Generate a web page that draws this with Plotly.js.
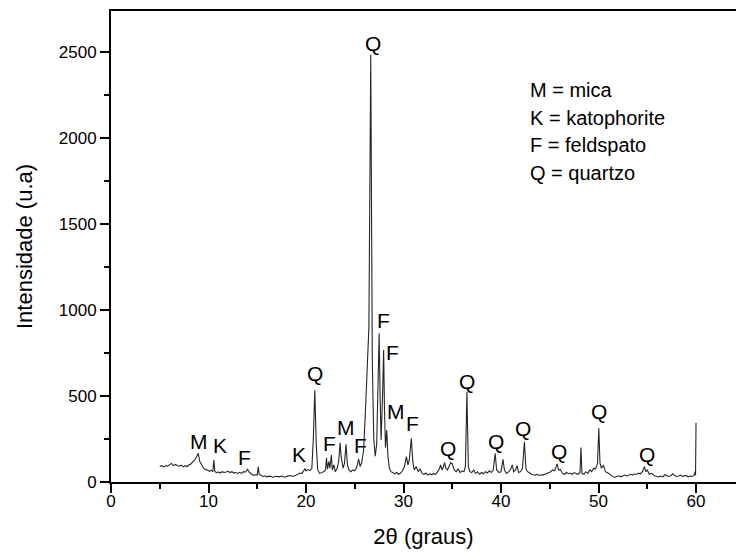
<!DOCTYPE html>
<html>
<head>
<meta charset="utf-8">
<script src="https://cdn.plot.ly/plotly-3.0.1.min.js"></script>
<style>html,body{margin:0;padding:0;background:#fff;}#chart{width:736px;height:553px;}</style>
</head>
<body>
<div id="chart"></div>
<script>
// 2θ (degrees)
const twoTheta = [
5.0,5.2,5.4,5.6,5.8,6.0,6.2,6.4,6.6,6.8,7.0,7.2,7.4,7.6,7.8,8.0,8.2,8.4,8.6,8.8,8.95,9.1,9.3,9.5,9.7,9.9,
10.1,10.3,10.45,10.55,10.65,10.8,11.0,11.2,11.4,11.6,11.8,12.0,12.2,12.4,12.6,12.8,13.0,13.2,13.4,13.6,13.8,
14.0,14.2,14.4,14.6,14.8,15.0,15.1,15.2,15.4,15.6,15.8,16.0,16.3,16.6,16.9,17.2,17.5,17.8,18.1,18.4,18.7,
19.0,19.2,19.4,19.6,19.8,19.9,20.0,20.2,20.4,20.6,20.75,20.9,21.05,21.2,21.4,21.6,21.8,22.0,22.1,22.2,22.35,
22.45,22.6,22.7,22.85,23.0,23.2,23.35,23.5,23.6,23.8,23.95,24.1,24.25,24.4,24.6,24.8,25.0,25.2,25.4,25.55,
25.7,25.9,26.1,26.3,26.45,26.64,26.8,26.95,27.1,27.25,27.4,27.5,27.6,27.7,27.85,27.96,28.05,28.15,28.28,
28.4,28.55,28.7,28.9,29.1,29.3,29.5,29.7,29.9,30.1,30.3,30.45,30.6,30.8,30.95,31.1,31.3,31.5,31.7,31.9,
32.1,32.3,32.5,32.7,32.9,33.1,33.3,33.5,33.7,33.8,33.95,34.1,34.2,34.35,34.5,34.7,34.85,35.0,35.2,35.4,
35.6,35.8,36.0,36.2,36.35,36.5,36.65,36.8,37.0,37.2,37.4,37.6,37.8,38.0,38.2,38.4,38.6,38.8,39.0,39.2,
39.4,39.55,39.8,40.0,40.2,40.35,40.55,40.8,41.0,41.15,41.3,41.5,41.65,41.8,42.0,42.2,42.4,42.55,42.7,
42.9,43.1,43.3,43.5,43.7,43.9,44.1,44.3,44.5,44.7,44.9,45.1,45.3,45.5,45.75,45.9,46.1,46.3,46.5,46.7,
46.9,47.1,47.3,47.5,47.7,47.9,48.1,48.2,48.3,48.5,48.7,48.9,49.1,49.3,49.5,49.7,49.9,50.03,50.15,50.3,
50.5,50.7,50.9,51.1,51.3,51.5,51.7,51.9,52.1,52.3,52.5,52.7,52.9,53.1,53.3,53.5,53.7,53.9,54.1,54.3,
54.5,54.7,54.85,55.0,55.2,55.4,55.6,55.8,56.0,56.2,56.4,56.6,56.8,57.0,57.2,57.4,57.6,57.8,58.0,58.2,
58.4,58.6,58.8,59.0,59.2,59.4,59.6,59.8,59.9,59.95,60.0
];
// Intensity (u.a)
const intensity = [
90,95,88,96,92,100,108,95,102,96,92,98,88,95,90,100,105,118,130,150,167,120,95,80,72,70,
62,68,60,128,62,55,58,52,60,55,58,62,55,60,52,55,50,56,50,60,58,
74,55,45,38,42,40,89,45,38,32,36,30,34,28,33,30,35,28,34,38,32,
42,45,52,50,68,79,65,72,66,80,250,533,220,70,50,55,60,70,140,75,120,
80,157,70,100,60,80,120,228,150,80,110,219,100,70,60,70,65,85,133,90,
110,180,420,767,900,2483,700,250,150,220,600,864,500,244,500,767,420,200,302,
150,80,60,55,48,55,45,52,65,90,147,100,130,254,120,70,90,60,75,50,
45,52,40,48,42,50,45,60,80,99,70,90,112,80,70,95,112,105,70,60,
75,55,65,60,90,525,90,60,55,70,50,60,45,55,48,60,52,65,55,70,
167,70,55,60,132,70,50,60,75,99,60,70,96,55,60,80,234,80,60,
55,45,42,40,45,38,42,40,45,50,55,60,70,65,105,70,72,50,45,55,
48,52,45,55,50,45,55,200,50,45,60,50,70,60,80,75,110,312,110,80,
99,60,55,45,35,30,28,32,36,30,34,40,35,38,45,40,48,44,52,48,
60,89,60,70,45,50,40,35,32,30,35,30,42,35,32,36,48,38,32,35,
40,33,36,38,30,35,32,38,60,40,345
];
// Phase labels on peaks
const labelText = ["M","K","F","K","Q","F","M","F","Q","F","F","M","F","Q","Q","Q","Q","Q","Q","Q"];
const labelX = [9.0,11.2,13.7,19.3,20.9,22.4,24.1,25.6,26.9,27.9,28.9,29.2,30.9,34.6,36.5,39.5,42.3,45.9,50.0,55.0];
const labelY = [238,213,143,160,630,223,314,212,2548,940,754,410,338,193,584,236,312,175,408,160];
// Key text
const keyLines = ["M = mica","K = katophorite","F = feldspato","Q = quartzo"];

const font = "'Liberation Sans', Arial, sans-serif";
const annotations = [];
for (let i = 0; i < labelText.length; i++) {
  annotations.push({x: labelX[i], y: labelY[i], xref: 'x', yref: 'y', text: labelText[i],
    showarrow: false, xanchor: 'center', yanchor: 'middle', font: {family: font, size: 21, color: '#000'}});
}
const keyY = [0.832, 0.773, 0.716, 0.656];
for (let i = 0; i < keyLines.length; i++) {
  annotations.push({x: 0.667, y: keyY[i], xref: 'paper', yref: 'paper', text: keyLines[i],
    showarrow: false, xanchor: 'left', yanchor: 'middle', font: {family: font, size: 20, color: '#000'}});
}

const trace = {x: twoTheta, y: intensity, type: 'scatter', mode: 'lines',
  line: {color: '#262626', width: 1.1}, hoverinfo: 'skip'};

const layout = {
  width: 736, height: 553,
  margin: {l: 111, r: 0, t: 11, b: 71, pad: 0},
  paper_bgcolor: '#fff', plot_bgcolor: '#fff',
  showlegend: false,
  font: {family: font, size: 17, color: '#000'},
  xaxis: {
    range: [0, 64.1], showgrid: false, zeroline: false,
    showline: true, linecolor: '#000', linewidth: 2, mirror: true,
    ticks: 'outside', ticklen: 9, tickwidth: 2, tickcolor: '#000',
    tick0: 0, dtick: 10, tickfont: {family: font, size: 17}, ticklabelstandoff: -6,
    minor: {ticks: 'outside', ticklen: 5, tickwidth: 2, tickcolor: '#000', dtick: 5, showgrid: false},
    title: {text: '2θ (graus)', font: {family: font, size: 22}, standoff: 18}
  },
  yaxis: {
    range: [0, 2738], showgrid: false, zeroline: false,
    showline: true, linecolor: '#000', linewidth: 2, mirror: false,
    ticks: 'outside', ticklen: 9, tickwidth: 2, tickcolor: '#000',
    tick0: 0, dtick: 500, tickfont: {family: font, size: 17},
    minor: {ticks: 'outside', ticklen: 5, tickwidth: 2, tickcolor: '#000', dtick: 250, showgrid: false},
    title: {text: 'Intensidade (u.a)', font: {family: font, size: 22}, standoff: 20}
  },
  annotations: annotations
};

Plotly.newPlot('chart', [trace], layout, {staticPlot: true, displayModeBar: false});
</script>
</body>
</html>
